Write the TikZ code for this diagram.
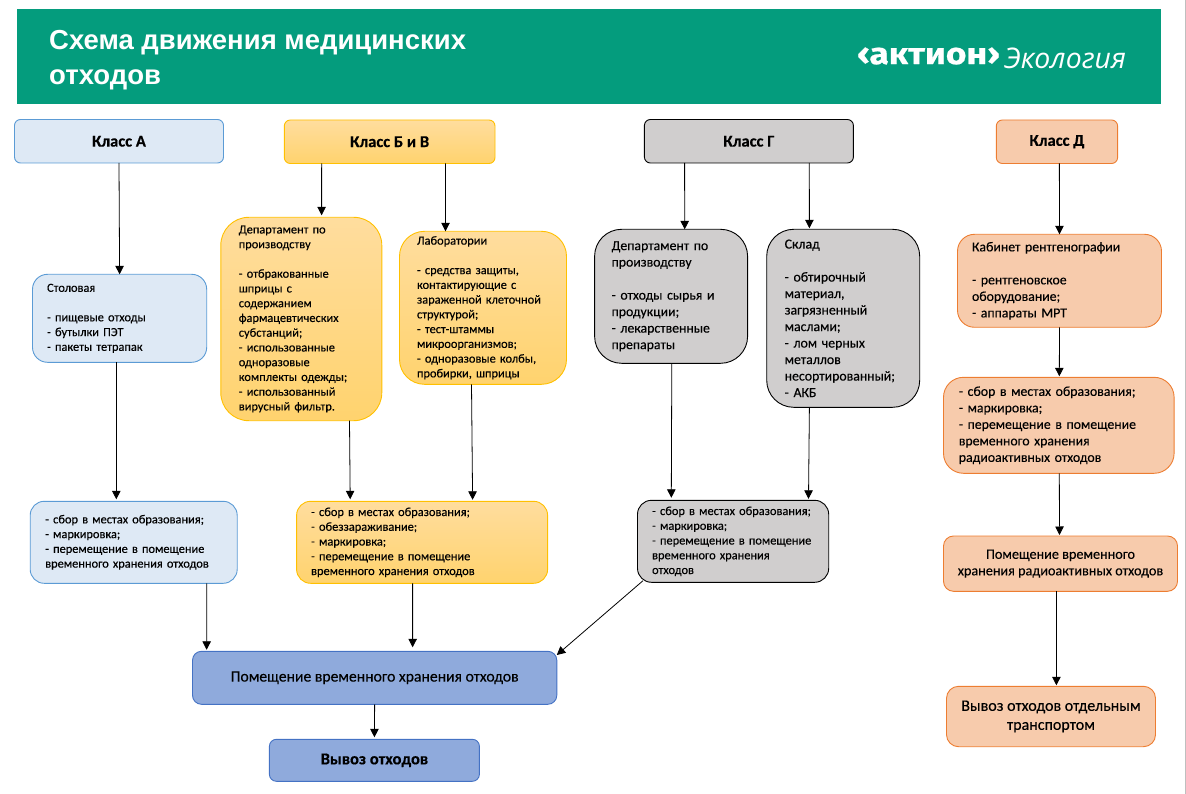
\documentclass[tikz,border=0pt]{standalone}
\usepackage{fontspec}
\usepackage{xcolor}
\setmainfont{Carlito}[FakeBold=0.25]
\newfontfamily\headfont{Liberation Sans}
\newfontfamily\logofont{Fira Sans}[FakeBold=0.6,FakeStretch=1.18]
\newfontfamily\logolight{Open Sans}
\usetikzlibrary{arrows.meta}
\definecolor{headgreen}{HTML}{049C7D}
\definecolor{blueline}{HTML}{5B9BD5}
\definecolor{bluefill}{HTML}{DEE9F5}
\definecolor{goldline}{HTML}{FFC000}
\definecolor{goldtop}{HTML}{FFDD9E}
\definecolor{goldbot}{HTML}{FFD36E}
\definecolor{greyfill}{HTML}{D0CECE}
\definecolor{orangeline}{HTML}{ED7D31}
\definecolor{orangefill}{HTML}{F7CBAC}
\definecolor{navyline}{HTML}{4472C4}
\definecolor{navyfill}{HTML}{8FAADC}

\begin{document}
\begin{tikzpicture}
		[x=1pt,y=-1pt,
		box/.style={rectangle,anchor=north west,line width=0.9pt,inner xsep=15pt,inner ysep=0pt,outer sep=0pt,align=left,font=\fontsize{12.4}{14.75}\selectfont},
		bigger/.style={font=\fontsize{13.8}{16.5}\selectfont},
		heading/.style={align=center,font=\fontsize{16.6}{19}\selectfont\bfseries},
		classa/.style={box,draw=blueline,fill=bluefill},
		classb/.style={box,draw=goldline,top color=goldtop,bottom color=goldbot},
		classg/.style={box,draw=black,fill=greyfill},
		classd/.style={box,draw=orangeline,fill=orangefill},
		store/.style={box,draw=navyline,fill=navyfill},
		link/.style={-{Triangle[length=8.5pt,width=8.5pt]},line width=0.8pt,black}]
		\useasboundingbox (0,0) rectangle (1186,794);
		\fill [black!25] (1184.6,0) rectangle (1186,794);
		\fill [headgreen] (17,9) rectangle (1161,104);
		\node [anchor=north west,inner sep=0pt,align=left,text=white,font=\headfont\fontsize{27.5}{34.5}\selectfont\bfseries] (title) at (49,30.5) {Схема движения медицинских\\отходов};
		\node [anchor=west,inner sep=0pt,text=white,font=\logofont\fontsize{30}{34}\selectfont\bfseries] (logo) at (857,56) {‹актион›};
		\node [anchor=west,inner sep=0pt,text=white,font=\logolight\fontsize{28.4}{30}\selectfont\itshape] (logotext) at (1004,58) {Экология};

		\node [classa,heading,rounded corners=6pt,minimum width=209pt,minimum height=43.5pt] (klassa) at (14.5,119.5) {Класс А};
		\node [classb,heading,rounded corners=6pt,minimum width=210.7pt,minimum height=43.5pt] (klassb) at (284.3,120) {Класс Б и В};
		\node [classg,heading,rounded corners=6pt,minimum width=209pt,minimum height=43.5pt] (klassg) at (644.4,119.5) {Класс Г};
		\node [classd,heading,rounded corners=6pt,minimum width=121.3pt,minimum height=43.5pt] (klassd) at (996.3,120) {Класс Д};

		\node [classa,rounded corners=15pt,text width=145pt,inner xsep=14.6pt,minimum height=88pt] (canteen) at (32.5,274.3) {Столовая\\[\baselineskip]- пищевые отходы\\- бутылки ПЭТ\\- пакеты тетрапак};
		\node [classb,rounded corners=28pt,text width=125pt,inner xsep=18pt,minimum height=203.4pt] (dept1) at (220.8,217.3) {Департамент по\\производству\\[\baselineskip]- отбракованные\\шприцы с\\содержанием\\фармацевтических\\субстанций;\\- использованные\\одноразовые\\комплекты одежды;\\- использованный\\вирусный фильтр.};
		\node [classb,rounded corners=25pt,text width=132pt,inner xsep=17.5pt,minimum height=153pt] (labs) at (399.5,231.3) {Лаборатории\\[\baselineskip]- средства защиты,\\контактирующие с\\зараженной клеточной\\структурой;\\- тест-штаммы\\микроорганизмов;\\- одноразовые колбы,\\пробирки, шприцы};
		\node [classg,bigger,rounded corners=27pt,text width=119pt,inner xsep=17pt,minimum height=134pt] (dept2) at (594.6,229.3) {Департамент по\\производству\\[\baselineskip]- отходы сырья и\\продукции;\\- лекарственные\\препараты};
		\node [classg,bigger,rounded corners=27pt,text width=117pt,inner xsep=18pt,minimum height=178pt] (stock) at (766.7,229.3) {Склад\\[\baselineskip]- обтирочный\\материал,\\загрязненный\\маслами;\\- лом черных\\металлов\\несортированный;\\- АКБ};
		\node [classd,bigger,rounded corners=17pt,text width=175pt,inner xsep=14.5pt,minimum height=93pt] (xray) at (957.5,234.3) {Кабинет рентгенографии\\[\baselineskip]- рентгеновское\\оборудование;\\- аппараты МРТ};

		\node [classa,rounded corners=14pt,text width=177pt,minimum height=82pt] (gathera) at (30.2,501.3) {- сбор в местах образования;\\- маркировка;\\- перемещение в помещение\\временного хранения отходов};
		\node [classb,rounded corners=14pt,text width=222pt,inner xsep=14.5pt,minimum height=82pt] (gatherb) at (296.6,501.3) {- сбор в местах образования;\\- обеззараживание;\\- маркировка;\\- перемещение в помещение\\временного хранения отходов};
		\node [classg,rounded corners=14pt,text width=162pt,inner xsep=14.6pt,minimum height=82pt] (gatherg) at (637.5,500.3) {- сбор в местах образования;\\- маркировка;\\- перемещение в помещение\\временного хранения\\отходов};
		\node [classd,bigger,rounded corners=20pt,text width=200pt,inner xsep=15.3pt,minimum height=96pt] (gatherd) at (943.5,377.3) {- сбор в местах образования;\\- маркировка;\\- перемещение в помещение\\временного хранения\\радиоактивных отходов};

		\node [classd,align=center,inner xsep=8pt,font=\fontsize{14.2}{16.5}\selectfont,rounded corners=10pt,minimum width=234pt,minimum height=55.3pt] (roomd) at (943.5,536) {Помещение временного\\хранения радиоактивных отходов};
		\node [classd,align=center,inner xsep=8pt,font=\fontsize{16}{19}\selectfont,rounded corners=12pt,minimum width=209pt,minimum height=60.4pt] (exportd) at (946.5,686.3) {Вывоз отходов отдельным\\транспортом};
		\node [store,align=center,font=\fontsize{15.7}{18}\selectfont,rounded corners=9pt,minimum width=364.3pt,minimum height=53pt] (room) at (192.5,651.3) {Помещение временного хранения отходов};
		\node [store,heading,rounded corners=7pt,minimum width=210pt,minimum height=42pt] (export) at (269.4,739.3) {Вывоз отходов};

		\draw [link] (klassa.south) -- (canteen.north);
		\draw [link] ([xshift=-3.3pt]canteen.south) -- ([xshift=-17.4pt,yshift=2pt]gathera.north);
		\draw [link] ([xshift=-68pt]klassb.south) -- ([xshift=20.3pt,yshift=2pt]dept1.north);
		\draw [link] ([xshift=55.9pt]klassb.south) -- ([xshift=-37.5pt]labs.north);
		\draw [link] ([xshift=48.2pt]dept1.south) -- ([xshift=-71.9pt,yshift=2pt]gatherb.north);
		\draw [link] ([xshift=-11.5pt]labs.south) -- ([xshift=50.5pt,yshift=1.5pt]gatherb.north);
		\draw [link] ([xshift=-64.3pt]klassg.south) -- ([xshift=13.6pt]dept2.north);
		\draw [link] ([xshift=60.4pt]klassg.south) -- ([xshift=-33.8pt,yshift=1pt]stock.north);
		\draw [link] ([xshift=0.7pt]dept2.south) -- ([xshift=-61.8pt,yshift=2.5pt]gatherg.north);
		\draw [link] ([xshift=-33.8pt]stock.south) -- ([xshift=75.4pt,yshift=1.5pt]gatherg.north);
		\draw [link] ([xshift=2.4pt]klassd.south) -- (xray.north);
		\draw [link] (xray.south) -- ([xshift=0.5pt,yshift=1pt]gatherd.north);
		\draw [link] ([xshift=0.5pt]gatherd.south) -- ([xshift=-1pt,yshift=1pt]roomd.north);
		\draw [link] ([xshift=-4.1pt]roomd.south) -- ([xshift=5.4pt,yshift=1pt]exportd.north);
		\draw [link] ([xshift=73pt]gathera.south) -- ([xshift=-168pt,yshift=1.5pt]room.north);
		\draw [link] ([xshift=-9.5pt]gatherb.south) -- ([xshift=38pt,yshift=4pt]room.north);
		\draw [link] ([xshift=5.5pt,yshift=1.6pt]gatherg.south west) -- ([yshift=-3.7pt]room.north east);
		\draw [link] (room.south) -- ([yshift=2pt]export.north);
	\end{tikzpicture}
\end{document}
